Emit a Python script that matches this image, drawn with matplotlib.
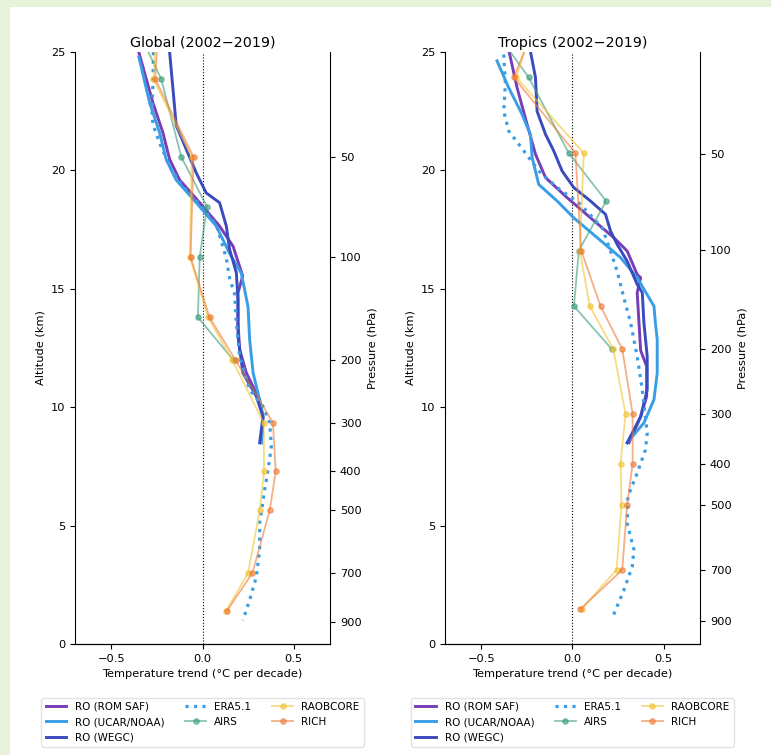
import numpy as np
import matplotlib
matplotlib.use('Agg')
import matplotlib.pyplot as plt
from matplotlib.patches import Rectangle

nan = np.nan

# pressure levels (hPa): AIRS 20-200, radiosondes 20-850 (no 70)
airs_plev = [20, 30, 50, 70, 100, 150, 200]
sonde_plev = [20, 30, 50, 100, 150, 200, 300, 400, 500, 700, 850]
# pressure ticks shown on right axis
p_ticks = [50, 100, 200, 300, 400, 500, 700, 900]

# ---------------- Global ----------------
glob_airs_alt = [26.5, 23.86, 20.57, 18.47, 16.34, 13.8, 11.98]
glob_sonde_alt = [26.5, 23.86, 20.57, 16.34, 13.8, 11.98, 9.34, 7.29, 5.64, 2.99, 1.41]
glob_pt_alt = [20.57, 16.34, 11.98, 9.34, 7.29, 5.64, 2.99, 0.95]

glob_airs = [-0.39, -0.227, -0.117, 0.024, -0.016, -0.026, 0.17]
glob_raob = [-0.25, -0.27, -0.06, -0.07, 0.03, 0.163, 0.335, 0.337, 0.313, 0.249, 0.13]
glob_rich = [-0.24, -0.26, -0.05, -0.066, 0.038, 0.181, 0.386, 0.401, 0.368, 0.273, 0.134]

glob_romsaf_alt = [25.0, 22.87, 21.6, 20.47, 19.6, 18.64, 17.65, 16.8, 15.54, 14.83, 13.56, 12.44, 11.45, 10.3, 9.6, 8.5]
glob_romsaf = [-0.35, -0.273, -0.218, -0.181, -0.126, -0.016, 0.093, 0.167, 0.22, 0.194, 0.194, 0.203, 0.24, 0.313, 0.331, 0.322]

glob_ucar_alt = [24.8, 22.87, 21.6, 20.47, 19.6, 18.64, 17.65, 16.5, 15.66, 14.25, 12.86, 11.45, 10.3, 9.6, 8.5]
glob_ucar = [-0.35, -0.291, -0.236, -0.2, -0.145, -0.035, 0.075, 0.148, 0.212, 0.249, 0.258, 0.277, 0.313, 0.331, 0.322]

glob_wegc_alt = [25.0, 22.7, 21.9, 20.9, 19.9, 19.05, 18.64, 17.65, 16.67, 15.68, 14.55, 13.0, 11.45, 10.46, 9.6, 8.5]
glob_wegc = [-0.181, -0.154, -0.145, -0.09, -0.035, 0.02, 0.093, 0.13, 0.148, 0.185, 0.194, 0.194, 0.221, 0.295, 0.331, 0.313]

glob_era_alt = [25.0, 23.6, 22.5, 21.96, 21.1, 20.05, 19.4, 18.9, 18.4, 17.7, 16.3, 15.45, 14.76, 13.56,
                12.15, 10.74, 10.04, 9.34, 8.35, 7.36, 6.5, 5.1, 3.98, 2.85, 1.86, 1.0]
glob_era = [-0.27, -0.273, -0.278, -0.273, -0.233, -0.172, -0.117, -0.053, 0.002, 0.075, 0.13, 0.148, 0.176, 0.185,
            0.203, 0.258, 0.331, 0.368, 0.377, 0.359, 0.34, 0.313, 0.313, 0.295, 0.258, 0.221]

# ---------------- Tropics ----------------
trop_airs_alt = [26.6, 23.93, 20.73, 18.71, 16.62, 14.27, 12.46]
trop_sonde_alt = [26.6, 23.93, 20.73, 16.62, 14.27, 12.46, 9.72, 7.61, 5.88, 3.13, 1.48]
trop_pt_alt = [20.7, 16.65, 12.45, 9.72, 7.61, 5.88, 3.13, 0.97]

trop_airs = [-0.49, -0.24, -0.02, 0.185, 0.035, 0.008, 0.215]
trop_raob = [-0.2, -0.308, 0.062, 0.04, 0.095, 0.224, 0.291, 0.264, 0.269, 0.242, 0.05]
trop_rich = [-0.18, -0.322, 0.016, 0.048, 0.154, 0.273, 0.33, 0.33, 0.30, 0.273, 0.044]

trop_romsaf_alt = [25.1, 23.5, 21.95, 20.69, 19.7, 18.85, 18.0, 17.16, 16.6, 15.61, 15.47, 14.84, 13.56, 12.4, 11.73, 10.46, 9.6, 8.5]
trop_romsaf = [-0.35, -0.304, -0.249, -0.203, -0.148, -0.029, 0.099, 0.227, 0.30, 0.355, 0.374, 0.355, 0.365, 0.374, 0.407, 0.407, 0.374, 0.31]

trop_ucar_alt = [24.63, 23.5, 22.38, 21.53, 20.54, 19.41, 18.71, 18.0, 17.16, 16.32, 15.47, 14.27, 13.56, 12.86, 11.45, 10.32, 9.34, 8.5]
trop_ucar = [-0.414, -0.35, -0.277, -0.231, -0.221, -0.185, -0.084, 0.007, 0.136, 0.264, 0.355, 0.447, 0.455, 0.465, 0.465, 0.447, 0.392, 0.30]

trop_wegc_alt = [25.05, 23.93, 22.5, 21.53, 20.83, 19.98, 19.28, 18.71, 18.15, 17.44, 16.88, 16.17, 15.19, 14.84, 13.56, 12.15, 10.74, 9.6, 8.5]
trop_wegc = [-0.231, -0.203, -0.194, -0.148, -0.103, -0.057, 0.007, 0.099, 0.181, 0.209, 0.245, 0.30, 0.355, 0.383, 0.392, 0.41, 0.41, 0.374, 0.30]

trop_era_alt = [24.9, 23.65, 22.5, 21.67, 20.83, 19.98, 19.28, 18.57, 17.58, 16.6, 15.75, 14.62, 13.56, 12.15,
                10.74, 8.91, 8.2, 7.22, 6.23, 5.1, 3.98, 3.27, 2.28, 1.09]
trop_era = [-0.377, -0.368, -0.377, -0.35, -0.267, -0.185, -0.084, 0.044, 0.163, 0.209, 0.245, 0.282, 0.319, 0.355,
            0.383, 0.41, 0.40, 0.355, 0.304, 0.30, 0.337, 0.328, 0.282, 0.218]

c_romsaf = '#7a3db8'
c_ucar = '#3a9ee6'
c_wegc = '#3a4bbf'
c_era = '#3a9ee6'
c_airs = '#3a9e7e'
c_raob = '#f2c330'
c_rich = '#ee7b38'

plt.rcParams['font.family'] = 'DejaVu Sans'

fig = plt.figure(figsize=(7.71, 7.55), dpi=100, facecolor='#e6f3d8')
fig.patches.append(Rectangle((10 / 771, 0), 1, 1 - 7 / 755, transform=fig.transFigure,
                             facecolor='white', edgecolor='none', zorder=-10))


def panel(left, title, airs_alt, sonde_alt, pt_alt, airs, raob, rich,
          rs_a, rs, uc_a, uc, wg_a, wg, era_a, era):
    ax = fig.add_axes([left, 0.147, 0.331, 0.784])
    ax.axvline(0, color='black', ls=':', lw=0.8)
    ax.plot(rs, rs_a, color=c_romsaf, lw=2.1, label='RO (ROM SAF)')
    ax.plot(uc, uc_a, color=c_ucar, lw=2.1, label='RO (UCAR/NOAA)')
    ax.plot(wg, wg_a, color=c_wegc, lw=2.1, label='RO (WEGC)')
    ax.plot(era, era_a, color=c_era, lw=2.3, ls=':', label='ERA5.1')
    ax.plot(airs, airs_alt, color=c_airs, lw=1.3, marker='o', ms=3.8, alpha=0.6, label='AIRS')
    ax.plot(raob, sonde_alt, color=c_raob, lw=1.3, marker='o', ms=3.8, alpha=0.6, label='RAOBCORE')
    ax.plot(rich, sonde_alt, color=c_rich, lw=1.3, marker='o', ms=3.8, alpha=0.6, label='RICH')
    ax.set_xlim(-0.7, 0.7)
    ax.set_ylim(0, 25)
    ax.set_xticks([-0.5, 0.0, 0.5])
    ax.set_yticks([0, 5, 10, 15, 20, 25])
    ax.tick_params(labelsize=8.2)
    ax.set_xlabel('Temperature trend (°C per decade)', fontsize=8.2)
    ax.set_ylabel('Altitude (km)', fontsize=8.2)
    ax.set_title(title, fontsize=10.3, pad=4)
    ax.spines['top'].set_visible(False)
    ax.spines['right'].set_visible(False)

    ax2 = ax.twinx()
    ax2.set_ylim(0, 25)
    ax2.set_yticks(pt_alt)
    ax2.set_yticklabels([str(p) for p in p_ticks])
    ax2.tick_params(labelsize=8.2)
    ax2.set_ylabel('Pressure (hPa)', fontsize=8.2)
    ax2.spines['top'].set_visible(False)
    ax2.spines['left'].set_visible(False)

    handles, labels = ax.get_legend_handles_labels()
    leg = ax.legend(handles, labels, loc='upper center', bbox_to_anchor=(0.5, -0.082), ncol=3,
                    fontsize=7.5, frameon=True, fancybox=True, edgecolor='#dddddd')
    return ax


panel(0.0973, 'Global (2002\u22122019)', glob_airs_alt, glob_sonde_alt, glob_pt_alt, glob_airs, glob_raob, glob_rich,
      glob_romsaf_alt, glob_romsaf, glob_ucar_alt, glob_ucar, glob_wegc_alt, glob_wegc, glob_era_alt, glob_era)
panel(0.577, 'Tropics (2002\u22122019)', trop_airs_alt, trop_sonde_alt, trop_pt_alt, trop_airs, trop_raob, trop_rich,
      trop_romsaf_alt, trop_romsaf, trop_ucar_alt, trop_ucar, trop_wegc_alt, trop_wegc, trop_era_alt, trop_era)

fig.savefig('out.png', dpi=100, facecolor=fig.get_facecolor())
